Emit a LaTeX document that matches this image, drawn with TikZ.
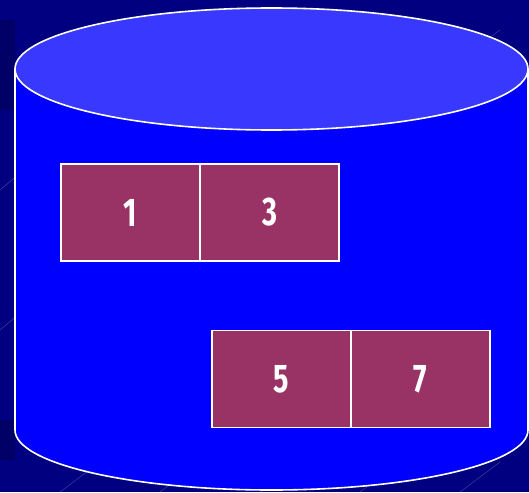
\documentclass[tikz,border=0pt]{standalone}
\usepackage{graphicx}
\usepackage{fontspec}
\setmainfont{Fira Sans}
\definecolor{bgnavy}{HTML}{000080}
\definecolor{bgdark}{HTML}{000066}
\definecolor{drumside}{HTML}{0000FF}
\definecolor{drumtop}{HTML}{3838FF}
\definecolor{cellfill}{HTML}{993366}
\newcommand{\digit}[1]{\raisebox{-3pt}{\scalebox{0.72}[1]{\fontsize{40}{44}\selectfont\fontseries{sb}\selectfont #1}}}
\tikzset{
  x=1pt, y=-1pt,
  outline/.style={draw=white, line width=1.6pt},
  cell/.style={draw=white, line width=1.3pt, fill=cellfill, minimum width=139pt,
    minimum height=97pt, inner sep=0pt, outer sep=0pt, text=white},
  streak/.style={draw=white, opacity=0.25, line width=0.5pt}
}
\begin{document}
\begin{tikzpicture}
  % backdrop
  \fill[bgnavy] (0,0) rectangle (529,492);
  \useasboundingbox (0,0) rectangle (529,492);
  \fill[bgdark] (0,20) rectangle (15,110);
  \fill[bgdark] (0,420) rectangle (15,460);
  % faint diagonal streaks
  \foreach \x in {-40,60,160,260,360,460,560}
    \draw[streak] (\x,60) -- ++(40,-30);
  \foreach \x in {-40,60,160,260,360,460,560}
    \draw[streak] (\x,492) -- ++(40,-30);
  \draw[streak] (0,190) -- (30,165);
  \draw[streak] (0,330) -- (30,305);

  % drum body
  \path[fill=drumside, outline]
    (15,70) -- (15,430) arc[start angle=180, end angle=360, x radius=256.5, y radius=-60]
    -- (528,70) -- cycle;
  % drum lid
  \path[fill=drumtop, outline] (271.5,69) ellipse[x radius=256.5, y radius=61];

  % record cells
  \node[cell] (c1) at (130.5,212.5) {\digit{1}};
  \node[cell, anchor=west] (c3) at (c1.east) {\digit{3}};
  \node[cell] (c5) at (281.5,379) {\digit{5}};
  \node[cell, anchor=west] (c7) at (c5.east) {\digit{7}};
\end{tikzpicture}
\end{document}
